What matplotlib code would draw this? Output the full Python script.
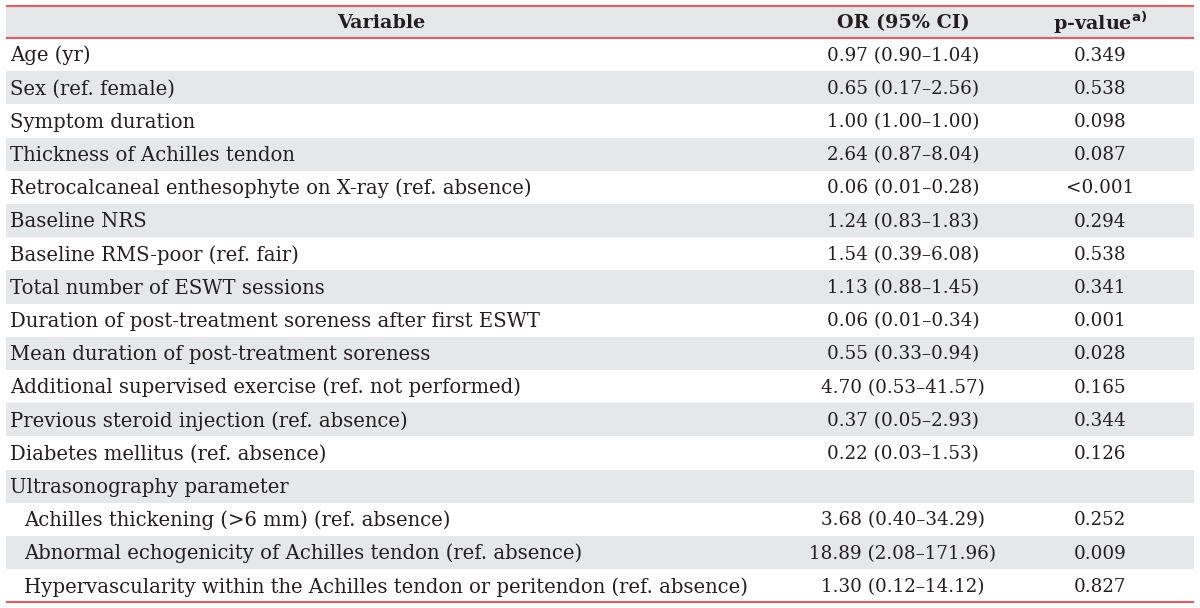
import matplotlib
matplotlib.use("Agg")
import matplotlib.pyplot as plt
from matplotlib.patches import Rectangle

variables = [
    "Age (yr)",
    "Sex (ref. female)",
    "Symptom duration",
    "Thickness of Achilles tendon",
    "Retrocalcaneal enthesophyte on X-ray (ref. absence)",
    "Baseline NRS",
    "Baseline RMS-poor (ref. fair)",
    "Total number of ESWT sessions",
    "Duration of post-treatment soreness after first ESWT",
    "Mean duration of post-treatment soreness",
    "Additional supervised exercise (ref. not performed)",
    "Previous steroid injection (ref. absence)",
    "Diabetes mellitus (ref. absence)",
    "Ultrasonography parameter",
    "Achilles thickening (>6 mm) (ref. absence)",
    "Abnormal echogenicity of Achilles tendon (ref. absence)",
    "Hypervascularity within the Achilles tendon or peritendon (ref. absence)",
]
indented = [False] * 14 + [True] * 3
or_ci = [
    "0.97 (0.90\u20131.04)", "0.65 (0.17\u20132.56)", "1.00 (1.00\u20131.00)",
    "2.64 (0.87\u20138.04)", "0.06 (0.01\u20130.28)", "1.24 (0.83\u20131.83)",
    "1.54 (0.39\u20136.08)", "1.13 (0.88\u20131.45)", "0.06 (0.01\u20130.34)",
    "0.55 (0.33\u20130.94)", "4.70 (0.53\u201341.57)", "0.37 (0.05\u20132.93)",
    "0.22 (0.03\u20131.53)", "", "3.68 (0.40\u201334.29)",
    "18.89 (2.08\u2013171.96)", "1.30 (0.12\u201314.12)",
]
p_values = [
    "0.349", "0.538", "0.098", "0.087", "<0.001", "0.294", "0.538", "0.341",
    "0.001", "0.028", "0.165", "0.344", "0.126", "", "0.252", "0.009", "0.827",
]
headers = ["Variable", "OR (95% CI)", "p-value"]

W, H = 1200, 608
fig = plt.figure(figsize=(W / 100, H / 100), dpi=100)
ax = fig.add_axes([0, 0, 1, 1])
ax.set_xlim(0, W)
ax.set_ylim(H, 0)
ax.axis("off")

font = "DejaVu Serif"
fs_txt = 14.1
fs_num = 13.2
fs_head = 13.8
gray = "#e6e7e8"
red = "#d0646c"
txt = "#231f20"

left, right = 6, 1194
top = 6
head_h = 32
row_h = 33.2
col_var = 381
col_or = 903
col_p = 1100

# header
ax.add_patch(Rectangle((left, top), right - left, head_h, color=gray, lw=0))
hy = top + head_h / 2 + 1
ax.text(col_var, hy, headers[0], ha="center", va="center", fontsize=fs_head,
        fontweight="bold", family=font, color=txt)
ax.text(col_or, hy, headers[1], ha="center", va="center", fontsize=fs_head,
        fontweight="bold", family=font, color=txt)
ax.text(col_p, hy, headers[2] + r"$^{\mathbf{a)}}$", ha="center", va="center",
        fontsize=fs_head, fontweight="bold", family=font, color=txt)

y0 = top + head_h
for i, (v, o, p) in enumerate(zip(variables, or_ci, p_values)):
    ry = y0 + i * row_h
    if i % 2 == 1:
        ax.add_patch(Rectangle((left, ry), right - left, row_h, color=gray, lw=0))
    cy = ry + row_h / 2 + 1
    x = 24 if indented[i] else 10
    ax.text(x, cy, v, ha="left", va="center", fontsize=fs_txt, family=font, color=txt)
    ax.text(col_or, cy, o, ha="center", va="center", fontsize=fs_num, family=font, color=txt)
    ax.text(col_p, cy, p, ha="center", va="center", fontsize=fs_num, family=font, color=txt)

bottom = y0 + len(variables) * row_h
for yy in (top, top + head_h, bottom):
    ax.plot([left, right], [yy, yy], color=red, lw=1.6, solid_capstyle="butt")

fig.savefig("out.png", dpi=100)
